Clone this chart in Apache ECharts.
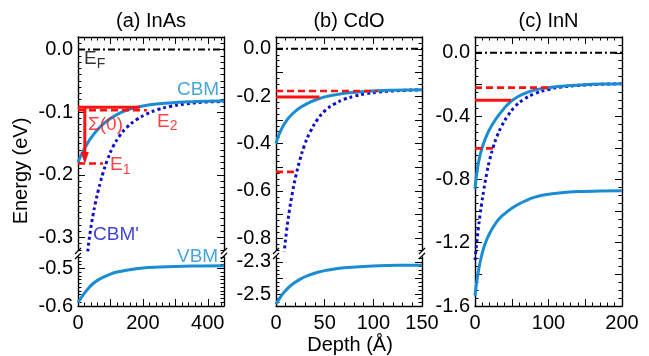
<!DOCTYPE html>
<html><head><meta charset="utf-8">
<script src="https://cdn.jsdelivr.net/npm/echarts@6/dist/echarts.min.js"></script>
<style>html,body{margin:0;padding:0;background:#fff}#c{width:649px;height:356px}</style>
</head><body><div id="c"></div>
<script>
// ---------------- text ----------------
const panelTitles = ['(a) InAs', '(b) CdO', '(c) InN'];
const yTitle = 'Energy (eV)';
const xTitle = 'Depth (\u00C5)';

// ---------------- panel (a) InAs ----------------
const depthA_cbm = [0, 10, 20, 30, 40, 60, 80, 100, 130, 160, 200, 250, 300, 350, 400, 450];
const energyA_cbm = [-0.180, -0.168, -0.158, -0.149, -0.141, -0.128, -0.118, -0.110, -0.101, -0.095, -0.090, -0.0865, -0.0845, -0.0832, -0.0825, -0.082];
const depthA_cbmp = [20, 25, 31, 38, 46, 54, 62, 70, 77, 90, 108, 128, 149, 180, 211, 245, 283, 330, 386, 450];
const energyA_cbmp = [-0.38, -0.35, -0.318, -0.29, -0.265, -0.244, -0.226, -0.21, -0.197, -0.177, -0.155, -0.138, -0.125, -0.112, -0.103, -0.096, -0.091, -0.087, -0.084, -0.083];
const depthA_vbm = [0, 10, 20, 33, 46, 60, 75, 98, 120, 149, 200, 252, 300, 350, 450];
const energyA_vbm = [-0.591, -0.578, -0.566, -0.552, -0.541, -0.532, -0.525, -0.516, -0.510, -0.505, -0.499, -0.4965, -0.495, -0.494, -0.493];
const levelsA_energy = [-0.092, -0.097, -0.182];
const levelsA_end = [190, 212, 77];
const arrowA_depth = 21, arrowA_from = -0.092, arrowA_to = -0.173;
const annotA_text = ['{m|E}{s|F}', 'CBM', '\u03A3(0)', '{m|E}{s|2}', '{m|E}{s|1}', "CBM'"];
const annotA_depth = [18.5, 305, 30.8, 243.5, 98.6, 46.2];
const annotA_energy = [-0.015, -0.0646, -0.1205, -0.115, -0.184, -0.296];
const annotA_vbm = {text: 'VBM', depth: 305, energy: -0.47};

// ---------------- panel (b) CdO ----------------
const depthB_cbm = [0, 3, 7, 11, 15.4, 20, 25.7, 33, 43, 50, 60, 75, 94, 120, 150];
const energyB_cbm = [-0.400, -0.363, -0.328, -0.302, -0.281, -0.263, -0.246, -0.229, -0.212, -0.203, -0.195, -0.186, -0.179, -0.175, -0.173];
const depthB_cbmp = [4, 8.6, 11, 13.7, 17, 20.5, 24.5, 29, 35, 43, 51, 60, 70, 80.5, 92, 104.5, 125, 150];
const energyB_cbmp = [-1.02, -0.85, -0.765, -0.685, -0.605, -0.535, -0.47, -0.41, -0.352, -0.296, -0.259, -0.233, -0.213, -0.200, -0.190, -0.183, -0.177, -0.173];
const depthB_vbm = [0, 4, 8, 12, 17.5, 25, 34.6, 43, 51.8, 60, 70, 86, 105, 125, 150];
const energyB_vbm = [-2.559, -2.520, -2.488, -2.462, -2.434, -2.405, -2.380, -2.363, -2.351, -2.343, -2.336, -2.329, -2.324, -2.321, -2.320];
const levelsB_energy = [-0.204, -0.178, -0.52];
const levelsB_end = [44.6, 104.5, 20.5];

// ---------------- panel (c) InN ----------------
const depthC_cbm = [0, 2, 4.5, 7, 10, 13.6, 17, 20, 24, 27, 32, 37, 43, 50, 60, 72, 85, 104, 125, 149, 175, 200];
const energyC_cbm = [-0.86, -0.775, -0.70, -0.645, -0.595, -0.548, -0.511, -0.482, -0.450, -0.428, -0.395, -0.366, -0.333, -0.303, -0.273, -0.248, -0.231, -0.217, -0.208, -0.201, -0.197, -0.195];
const depthC_cbmp = [0, 2, 4.5, 7, 9, 12, 15.8, 20, 24.9, 30, 36, 44, 54, 66, 81.5, 100, 117.6, 140, 170, 200];
const energyC_cbmp = [-1.31, -1.215, -1.11, -1.02, -0.955, -0.865, -0.765, -0.675, -0.594, -0.527, -0.465, -0.402, -0.342, -0.295, -0.258, -0.232, -0.216, -0.206, -0.199, -0.195];
const depthC_vbm = [0, 2, 5, 8, 12, 16, 20, 25, 30, 36, 43, 50, 59, 70, 81.5, 95, 117.6, 140, 170, 200];
const energyC_vbm = [-1.535, -1.46, -1.37, -1.30, -1.23, -1.18, -1.14, -1.10, -1.065, -1.034, -1.007, -0.983, -0.957, -0.932, -0.912, -0.897, -0.884, -0.877, -0.873, -0.872];
const levelsC_energy = [-0.30, -0.22, -0.604];
const levelsC_end = [49, 104, 26];

// ---------------- axis ticks ----------------
const xTicksA = {min: 0, max: 450, labels: [0, 200, 400], major: [0, 100, 200, 300, 400], minor: 20};
const xTicksB = {min: 0, max: 150, labels: [0, 50, 100, 150], major: [0, 50, 100, 150], minor: 10};
const xTicksC = {min: 0, max: 200, labels: [0, 100, 200], major: [0, 50, 100, 150, 200], minor: 10};
const yTicksAup = {min: -0.32, max: 0.02, labels: [0, -0.1, -0.2, -0.3], major: [0, -0.1, -0.2, -0.3], minor: 0.01};
const yTicksAlo = {min: -0.6, max: -0.47, labels: [-0.5, -0.6], major: [-0.5, -0.6], minor: 0.01};
const yTicksBup = {min: -0.85, max: 0.05, labels: [0, -0.2, -0.4, -0.6, -0.8], major: [0, -0.1, -0.2, -0.3, -0.4, -0.5, -0.6, -0.7, -0.8], minor: 0.025};
const yTicksBlo = {min: -2.57, max: -2.27, labels: [-2.3, -2.5], major: [-2.3, -2.4, -2.5], minor: 0.025};
const yTicksC = {min: -1.6, max: 0.1, labels: [0, -0.4, -0.8, -1.2, -1.6], major: [0, -0.2, -0.4, -0.6, -0.8, -1.0, -1.2, -1.4, -1.6], minor: 0.05};

// ---------------- styling / layout ----------------
const FONT = "'Liberation Sans', Arial, Helvetica, sans-serif";
const C_CBM = '#1a8dd2', C_CBMP = '#1010c8', C_RED = '#ff1010', C_BLK = '#000000';
const L = {
  a: {left: 78, width: 146}, b: {left: 276, width: 146}, c: {left: 475, width: 147},
  top: 37, upperH: 213, lowerTop: 257, lowerH: 49
};

function stepTicks(min, max, step) {
  const out = [];
  const s = Math.ceil(min / step - 1e-9), e = Math.floor(max / step + 1e-9);
  for (let k = s; k <= e; k++) out.push(+(k * step).toFixed(6));
  return out;
}
function zip(xs, ys) { return xs.map((x, i) => [x, ys[i]]); }
function fmtY(v) { return Math.abs(v) < 1e-9 ? '0.0' : v.toFixed(1); }

const grids = [], xAxes = [], yAxes = [], series = [];

function axisDef(gi, pos, s, showLabel, major) {
  const isX = pos === 'top' || pos === 'bottom';
  return {
    type: 'value', gridIndex: gi, position: pos, min: s.min, max: s.max,
    axisLine: {show: major, onZero: false, lineStyle: {color: '#000', width: 1.4}},
    axisTick: {show: true, inside: true, length: major ? 7 : 3.5,
      customValues: major ? s.major : stepTicks(s.min, s.max, s.minor),
      lineStyle: {color: '#000', width: 1}},
    axisLabel: showLabel ? {show: true, customValues: s.labels,
      formatter: isX ? (v => String(Math.round(v))) : fmtY,
      fontSize: 20, fontFamily: FONT, color: '#000', margin: isX ? 7 : 5} : {show: false},
    splitLine: {show: false}, minorTick: {show: false}, silent: true
  };
}
function addGrid(rect, xs, ys, part) {
  const gi = grids.length;
  grids.push({left: rect.left, top: rect.top, width: rect.width, height: rect.height});
  const xi = xAxes.length, yi = yAxes.length;
  const xPos = part === 'upper' ? ['top'] : part === 'lower' ? ['bottom'] : ['bottom', 'top'];
  xPos.forEach(pos => {
    xAxes.push(axisDef(gi, pos, xs, pos === 'bottom', true));
    xAxes.push(axisDef(gi, pos, xs, false, false));
  });
  ['left', 'right'].forEach(pos => {
    yAxes.push(axisDef(gi, pos, ys, pos === 'left', true));
    yAxes.push(axisDef(gi, pos, ys, false, false));
  });
  return {x: xi, y: yi};
}
function lineS(ax, data, color, width, type, z, smooth) {
  return {type: 'line', xAxisIndex: ax.x, yAxisIndex: ax.y, data, symbol: 'none', showSymbol: false,
    smooth: smooth ? 0.4 : false, clip: true, silent: true, z, animation: false,
    lineStyle: {color, width, type, cap: 'butt', join: 'round'}};
}
const DASH = [7, 4], DOT = [3, 3], DASHDOT = [7, 3, 2, 3];

function levelSeries(ax, energies, ends) {
  energies.forEach((e, i) => {
    series.push(lineS(ax, [[0, e], [ends[i], e]], C_RED, i === 0 ? 3 : 2.6, i === 0 ? 'solid' : DASH, 6, false));
  });
}

// ---- panel (a)
const gAu = addGrid({left: L.a.left, top: L.top, width: L.a.width, height: L.upperH}, xTicksA, yTicksAup, 'upper');
const gAl = addGrid({left: L.a.left, top: L.lowerTop, width: L.a.width, height: L.lowerH}, xTicksA, yTicksAlo, 'lower');
series.push(lineS(gAu, [[xTicksA.min, 0], [xTicksA.max, 0]], C_BLK, 2, DASHDOT, 2, false));
series.push(lineS(gAu, zip(depthA_cbmp, energyA_cbmp), C_CBMP, 3, DOT, 3, true));
series.push(lineS(gAu, zip(depthA_cbm, energyA_cbm), C_CBM, 3, 'solid', 4, true));
series.push(lineS(gAl, zip(depthA_vbm, energyA_vbm), C_CBM, 3, 'solid', 4, true));
levelSeries(gAu, levelsA_energy, levelsA_end);
series.push({type: 'line', xAxisIndex: gAu.x, yAxisIndex: gAu.y, silent: true, z: 7, animation: false,
  showSymbol: true, lineStyle: {color: C_RED, width: 3}, itemStyle: {color: C_RED},
  data: [{value: [arrowA_depth, arrowA_from], symbol: 'none'},
         {value: [arrowA_depth, arrowA_to], symbol: 'triangle', symbolSize: [8, 12], symbolRotate: 180}]});

const annotColors = [C_BLK, C_CBM, C_RED, C_RED, C_RED, C_CBMP];
const rich = {m: {fontSize: 19, fontFamily: FONT}, s: {fontSize: 14, fontFamily: FONT, padding: [10, 0, 0, 0]}};
series.push({type: 'scatter', xAxisIndex: gAu.x, yAxisIndex: gAu.y, symbolSize: 0, clip: false, silent: true, z: 10, animation: false,
  data: annotA_text.map((t, i) => ({value: [annotA_depth[i], annotA_energy[i]],
    label: {show: true, formatter: t, color: annotColors[i]}})),
  label: {show: true, position: 'right', distance: 0, fontSize: 19, fontFamily: FONT, rich}});
series.push({type: 'scatter', xAxisIndex: gAl.x, yAxisIndex: gAl.y, symbolSize: 0, clip: false, silent: true, z: 10, animation: false,
  data: [{value: [annotA_vbm.depth, annotA_vbm.energy]}],
  label: {show: true, formatter: annotA_vbm.text, color: C_CBM, position: 'right', distance: 0, fontSize: 19, fontFamily: FONT}});

// ---- panel (b)
const gBu = addGrid({left: L.b.left, top: L.top, width: L.b.width, height: L.upperH}, xTicksB, yTicksBup, 'upper');
const gBl = addGrid({left: L.b.left, top: L.lowerTop, width: L.b.width, height: L.lowerH}, xTicksB, yTicksBlo, 'lower');
series.push(lineS(gBu, [[xTicksB.min, 0], [xTicksB.max, 0]], C_BLK, 2, DASHDOT, 2, false));
series.push(lineS(gBu, zip(depthB_cbmp, energyB_cbmp), C_CBMP, 3, DOT, 3, true));
series.push(lineS(gBu, zip(depthB_cbm, energyB_cbm), C_CBM, 3, 'solid', 4, true));
series.push(lineS(gBl, zip(depthB_vbm, energyB_vbm), C_CBM, 3, 'solid', 4, true));
levelSeries(gBu, levelsB_energy, levelsB_end);

// ---- panel (c)
const gC = addGrid({left: L.c.left, top: L.top, width: L.c.width, height: L.lowerTop + L.lowerH - L.top}, xTicksC, yTicksC, 'full');
series.push(lineS(gC, [[xTicksC.min, 0], [xTicksC.max, 0]], C_BLK, 2, DASHDOT, 2, false));
series.push(lineS(gC, zip(depthC_cbmp, energyC_cbmp), C_CBMP, 3, DOT, 3, true));
series.push(lineS(gC, zip(depthC_cbm, energyC_cbm), C_CBM, 3, 'solid', 4, true));
series.push(lineS(gC, zip(depthC_vbm, energyC_vbm), C_CBM, 3, 'solid', 4, true));
levelSeries(gC, levelsC_energy, levelsC_end);

// ---- decorations: titles, axis names, break marks
const graphics = [];
[L.a, L.b, L.c].forEach((p, i) => graphics.push({type: 'text', x: p.left + p.width / 2, y: 21, silent: true,
  style: {text: panelTitles[i], fontSize: 20, fontFamily: FONT, fill: '#000', align: 'center', verticalAlign: 'middle'}}));
graphics.push({type: 'text', x: 21, y: 171, rotation: Math.PI / 2, silent: true,
  style: {text: yTitle, fontSize: 20, fontFamily: FONT, fill: '#000', align: 'center', verticalAlign: 'middle'}});
graphics.push({type: 'text', x: 350, y: 345, silent: true,
  style: {text: xTitle, fontSize: 20, fontFamily: FONT, fill: '#000', align: 'center', verticalAlign: 'middle'}});
const upperBottom = L.top + L.upperH;
[L.a, L.b].forEach(p => {
  [p.left, p.left + p.width].forEach(x => {
    [upperBottom + 1, L.lowerTop - 1].forEach(y => {
      graphics.push({type: 'line', silent: true, shape: {x1: x - 3, y1: y + 3, x2: x + 3, y2: y - 3},
        style: {stroke: '#000', lineWidth: 1.2}});
    });
  });
});

const chart = echarts.init(document.getElementById('c'), null, {renderer: 'canvas'});
chart.setOption({
  animation: false,
  backgroundColor: '#fff',
  grid: grids, xAxis: xAxes, yAxis: yAxes, series, graphic: graphics
});
</script></body></html>
